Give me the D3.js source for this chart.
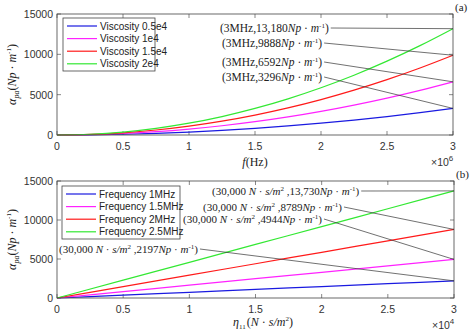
<!DOCTYPE html>
<html>
<head>
<meta charset="utf-8">
<script src="https://cdn.jsdelivr.net/npm/d3@7"></script>
<style>
  body { margin: 0; background: #fff; }
  svg { display: block; }
  .tick-label { font-family: "Liberation Sans", Arial, sans-serif; font-size: 10.5px; fill: #333; }
  .ann { font-family: "Liberation Serif", "Times New Roman", serif; font-size: 11px; fill: #222; }
  .leg { font-family: "Liberation Sans", Arial, sans-serif; font-size: 10px; fill: #222; }
</style>
</head>
<body>
<svg id="chart" width="474" height="335"></svg>
<script>
// panel (a): attenuation vs frequency (x in units of 1e6 Hz)
const freqPts = [0, 0.25, 0.5, 0.75, 1, 1.25, 1.5, 1.75, 2, 2.25, 2.5, 2.75, 3];
const viscosity05 = [0, 23, 92, 206, 366, 572, 824, 1122, 1465, 1854, 2289, 2770, 3296];
const viscosity1  = [0, 46, 183, 412, 732, 1144, 1648, 2243, 2930, 3708, 4578, 5539, 6592];
const viscosity15 = [0, 69, 275, 618, 1099, 1717, 2472, 3365, 4395, 5562, 6867, 8309, 9888];
const viscosity2  = [0, 92, 366, 824, 1464, 2288, 3295, 4485, 5858, 7414, 9153, 11075, 13180];
const viscNames = ["Viscosity 0.5e4", "Viscosity 1e4", "Viscosity 1.5e4", "Viscosity 2e4"];
const viscLabels = ["3296", "6592", "9888", "13,180"];

// panel (b): attenuation vs viscosity (x in units of 1e4 N·s/m²)
const etaPts = [0, 0.5, 1, 1.5, 2, 2.5, 3];
const freq1   = [0, 366, 732, 1099, 1465, 1831, 2197];
const freq15  = [0, 824, 1648, 2472, 3296, 4120, 4944];
const freq2   = [0, 1465, 2930, 4395, 5859, 7324, 8789];
const freq25  = [0, 2288, 4577, 6865, 9153, 11442, 13730];
const freqNames = ["Frequency 1MHz", "Frequency 1.5MHz", "Frequency 2MHz", "Frequency 2.5MHz"];
const freqLabels = ["2197", "4944", "8789", "13,730"];

const xTicks = [0, 0.5, 1, 1.5, 2, 2.5, 3];
const yTicks = [0, 5000, 10000, 15000];
const colors = ["#1a1ae0", "#ff22ff", "#ff1a1a", "#33e833"];

const svg = d3.select("#chart");

function panel(opt) {
  const x = d3.scaleLinear().domain([0, 3]).range([opt.left, opt.right]);
  const y = d3.scaleLinear().domain([0, 15000]).range([opt.bottom, opt.top]);
  const g = svg.append("g");

  // tick marks inside the box on all four sides
  const tk = 4;
  xTicks.forEach(t => {
    g.append("line").attr("x1", x(t)).attr("x2", x(t)).attr("y1", opt.bottom).attr("y2", opt.bottom - tk).attr("stroke", "#555").attr("stroke-width", 0.7);
    g.append("line").attr("x1", x(t)).attr("x2", x(t)).attr("y1", opt.top).attr("y2", opt.top + tk).attr("stroke", "#555").attr("stroke-width", 0.7);
    g.append("text").attr("class", "tick-label").attr("x", x(t)).attr("y", opt.bottom + 15)
      .attr("text-anchor", "middle").text(t);
  });
  yTicks.forEach(t => {
    g.append("line").attr("x1", opt.left).attr("x2", opt.left + tk).attr("y1", y(t)).attr("y2", y(t)).attr("stroke", "#555").attr("stroke-width", 0.7);
    g.append("line").attr("x1", opt.right).attr("x2", opt.right - tk).attr("y1", y(t)).attr("y2", y(t)).attr("stroke", "#555").attr("stroke-width", 0.7);
    g.append("text").attr("class", "tick-label").attr("x", opt.left - 4).attr("y", y(t) + 4)
      .attr("text-anchor", "end").text(t);
  });

  // curves
  const line = d3.line().x(d => x(d[0])).y(d => y(d[1])).curve(d3.curveMonotoneX);
  opt.series.forEach((s, i) => {
    g.append("path").datum(opt.xs.map((v, j) => [v, s[j]]))
      .attr("d", line).attr("fill", "none").attr("stroke", colors[i]).attr("stroke-width", 1.2);
  });

  // box
  g.append("rect").attr("x", opt.left).attr("y", opt.top)
    .attr("width", opt.right - opt.left).attr("height", opt.bottom - opt.top)
    .attr("fill", "none").attr("stroke", "#444").attr("stroke-width", 0.8);

  // callouts pointing to the end value of each series
  opt.callouts.forEach(c => {
    const s = opt.series[c.idx];
    const t = g.append("text").attr("class", "ann").style("font-size", opt.annSize)
      .attr("x", c.tx).attr("y", c.ty + 4);
    opt.writeLabel(t, opt.labels[c.idx]);
    const w = t.node().getComputedTextLength();
    g.append("line").attr("x1", c.tx + w + 2).attr("y1", c.ty)
      .attr("x2", x(3)).attr("y2", y(s[s.length - 1]))
      .attr("stroke", "#333").attr("stroke-width", 0.7);
  });

  // legend
  const lg = g.append("g");
  lg.append("rect").attr("x", opt.leg.x).attr("y", opt.leg.y).attr("width", opt.leg.w).attr("height", opt.leg.h)
    .attr("fill", "#fff").attr("stroke", "#444").attr("stroke-width", 0.8);
  opt.names.forEach((n, i) => {
    const ly = opt.leg.y + 8 + i * 12.6;
    lg.append("line").attr("x1", opt.leg.x + 4).attr("x2", opt.leg.x + 34).attr("y1", ly).attr("y2", ly)
      .attr("stroke", colors[i]).attr("stroke-width", 1.2);
    lg.append("text").attr("class", "leg").attr("x", opt.leg.x + 37).attr("y", ly + 3.5).text(n);
  });

  // y label
  const yl = g.append("text").attr("class", "ann").style("font-size", "12px")
    .attr("transform", `translate(${opt.ylx},${(opt.top + opt.bottom) / 2}) rotate(-90)`)
    .attr("text-anchor", "middle");
  yl.append("tspan").style("font-style", "italic").text("α");
  yl.append("tspan").style("font-style", "italic").style("font-size", "8px").attr("dy", 3).text("pa");
  yl.append("tspan").attr("dy", -3).text("(");
  yl.append("tspan").style("font-style", "italic").text("Np");
  yl.append("tspan").text(" · ");
  yl.append("tspan").style("font-style", "italic").text("m");
  yl.append("tspan").style("font-size", "7px").attr("dy", -5).text("-1");
  yl.append("tspan").attr("dy", 5).text(")");

  // exponent marker
  const ex = g.append("text").attr("class", "tick-label").attr("x", opt.right - 22).attr("y", opt.bottom + 31);
  ex.append("tspan").text("×10");
  ex.append("tspan").style("font-size", "8px").attr("dy", -5).text(opt.expo);

  // panel letter
  g.append("text").attr("class", "ann").attr("x", opt.right + 2).attr("y", opt.top - 3).text(opt.letter);
  return { x, y, g };
}

function npLabel(t, v, prefix) {
  prefix(t);
  t.append("tspan").text("," + v);
  t.append("tspan").style("font-style", "italic").text("Np");
  t.append("tspan").text(" · ");
  t.append("tspan").style("font-style", "italic").text("m");
  t.append("tspan").style("font-size", "7px").attr("dy", -4).text("-1");
  t.append("tspan").attr("dy", 4).text(")");
}

const pa = panel({
  left: 57, right: 453, top: 14, bottom: 135,
  xs: freqPts,
  series: [viscosity05, viscosity1, viscosity15, viscosity2],
  names: viscNames, labels: viscLabels,
  leg: { x: 63, y: 18, w: 92, h: 53 },
  ylx: 16, expo: "6", letter: "(a)", annSize: "11.5px",
  callouts: [
    { idx: 3, tx: 220, ty: 28 },
    { idx: 2, tx: 222, ty: 43 },
    { idx: 1, tx: 222, ty: 62 },
    { idx: 0, tx: 222, ty: 77 }
  ],
  writeLabel: (t, v) => npLabel(t, v, tt => tt.append("tspan").text("(3MHz"))
});

const pb = panel({
  left: 57, right: 454, top: 181, bottom: 298,
  xs: etaPts,
  series: [freq1, freq15, freq2, freq25],
  names: freqNames, labels: freqLabels,
  leg: { x: 62, y: 186, w: 118, h: 53 },
  ylx: 16, expo: "4", letter: "(b)", annSize: "11px",
  callouts: [
    { idx: 3, tx: 212, ty: 191 },
    { idx: 2, tx: 203, ty: 207 },
    { idx: 1, tx: 183, ty: 219 },
    { idx: 0, tx: 59, ty: 249 }
  ],
  writeLabel: (t, v) => npLabel(t, v, tt => {
    tt.append("tspan").text("(30,000 ");
    tt.append("tspan").style("font-style", "italic").text("N");
    tt.append("tspan").text(" · ");
    tt.append("tspan").style("font-style", "italic").text("s/m");
    tt.append("tspan").style("font-size", "7px").attr("dy", -4).text("2");
    tt.append("tspan").attr("dy", 4).text(" ");
  })
});

// x axis titles
const fx = svg.append("text").attr("class", "ann").style("font-size", "12px")
  .attr("x", 255).attr("y", 166).attr("text-anchor", "middle");
fx.append("tspan").style("font-style", "italic").text("f");
fx.append("tspan").text("(Hz)");

const ex = svg.append("text").attr("class", "ann").style("font-size", "12px")
  .attr("x", 263).attr("y", 326).attr("text-anchor", "middle");
ex.append("tspan").style("font-style", "italic").text("η");
ex.append("tspan").style("font-size", "7px").attr("dy", 3).text("11");
ex.append("tspan").attr("dy", -3).attr("dx", 1).text("(");
ex.append("tspan").style("font-style", "italic").text("N");
ex.append("tspan").text(" · ");
ex.append("tspan").style("font-style", "italic").text("s/m");
ex.append("tspan").style("font-size", "7px").attr("dy", -5).text("2");
ex.append("tspan").attr("dy", 5).text(")");
</script>
</body>
</html>
